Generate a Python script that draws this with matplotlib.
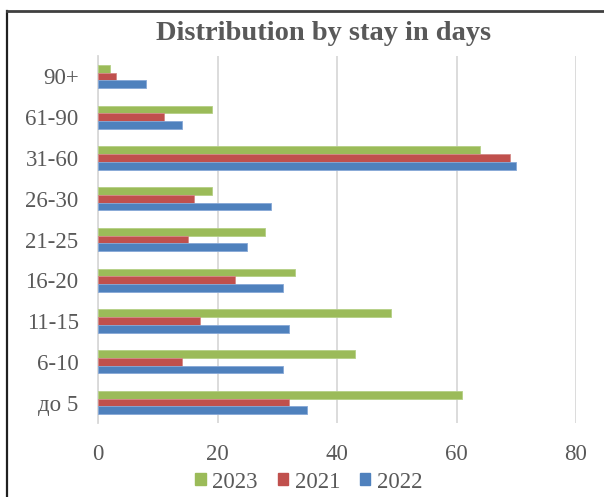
import matplotlib
matplotlib.use("Agg")
import matplotlib.pyplot as plt
from matplotlib.patches import Patch
from matplotlib.lines import Line2D
import numpy as np

categories = ["до 5", "6-10", "11-15", "16-20", "21-25", "26-30", "31-60", "61-90", "90+"]
series_names = ["2023", "2021", "2022"]
values_2023 = [61, 43, 49, 33, 28, 19, 64, 19, 2]
values_2021 = [32, 14, 17, 23, 15, 16, 69, 11, 3]
values_2022 = [35, 31, 32, 31, 25, 29, 70, 14, 8]
x_ticks = [0, 20, 40, 60, 80]
title = "Distribution by stay in days"

colors = ["#9BBB59", "#C0504D", "#4F81BD"]
edge_colors = ["#B5CF85", "#D48A88", "#86A8D6"]
txt_color = "#595959"

plt.rcParams["font.family"] = ["Liberation Serif", "DejaVu Serif"]

fig = plt.figure(figsize=(6.04, 4.97), dpi=100)
ax = fig.add_axes([98 / 604, 74 / 497, 478 / 604, 367 / 497])

y = np.arange(len(categories))
h = 0.19
series = [values_2023, values_2021, values_2022]
offsets = [h, 0, -h]
for vals, off, c, ec, name in zip(series, offsets, colors, edge_colors, series_names):
    ax.barh(y + off, vals, height=h, color=c, edgecolor=ec, linewidth=0.6, label=name, zorder=3)

ax.set_xlim(0, 80)
ax.set_ylim(-0.5, len(categories) - 0.5)
ax.set_xticks(x_ticks)
ax.set_xticklabels([str(t) for t in x_ticks])
ax.set_yticks(y)
ax.set_yticklabels(categories)
ax.tick_params(axis="both", length=0, labelsize=16.5, labelcolor=txt_color)
ax.tick_params(axis="x", pad=15)
ax.tick_params(axis="y", pad=14)
ax.grid(axis="x", color="#D9D9D9", linewidth=1.3, zorder=0)
ax.set_axisbelow(True)
for s in ["top", "right", "bottom"]:
    ax.spines[s].set_visible(False)
ax.spines["left"].set_color("#D9D9D9")
ax.spines["left"].set_linewidth(1.3)

fig.text(323.5 / 604, 457 / 497, title, ha="center", va="baseline",
         fontsize=20.5, fontweight="bold", color=txt_color)

handles = [Patch(facecolor=c, edgecolor=c) for c in colors]
leg = fig.legend(handles, series_names, loc="center", bbox_to_anchor=(309 / 604, 15 / 497),
                 ncol=3, frameon=False, fontsize=16.5, handlelength=0.44, handleheight=0.44,
                 handletextpad=0.3, columnspacing=0.87, borderpad=0)
for t in leg.get_texts():
    t.set_color(txt_color)

# chart frame (partially visible: left and top edges)
fig.add_artist(Line2D([7.5 / 604, 7.5 / 604], [0, 486 / 497], transform=fig.transFigure,
                      color="#202020", linewidth=1.6))
fig.add_artist(Line2D([7.5 / 604, 1], [486 / 497, 486 / 497], transform=fig.transFigure,
                      color="#404040", linewidth=2.0))

fig.savefig("out.png", dpi=100)
